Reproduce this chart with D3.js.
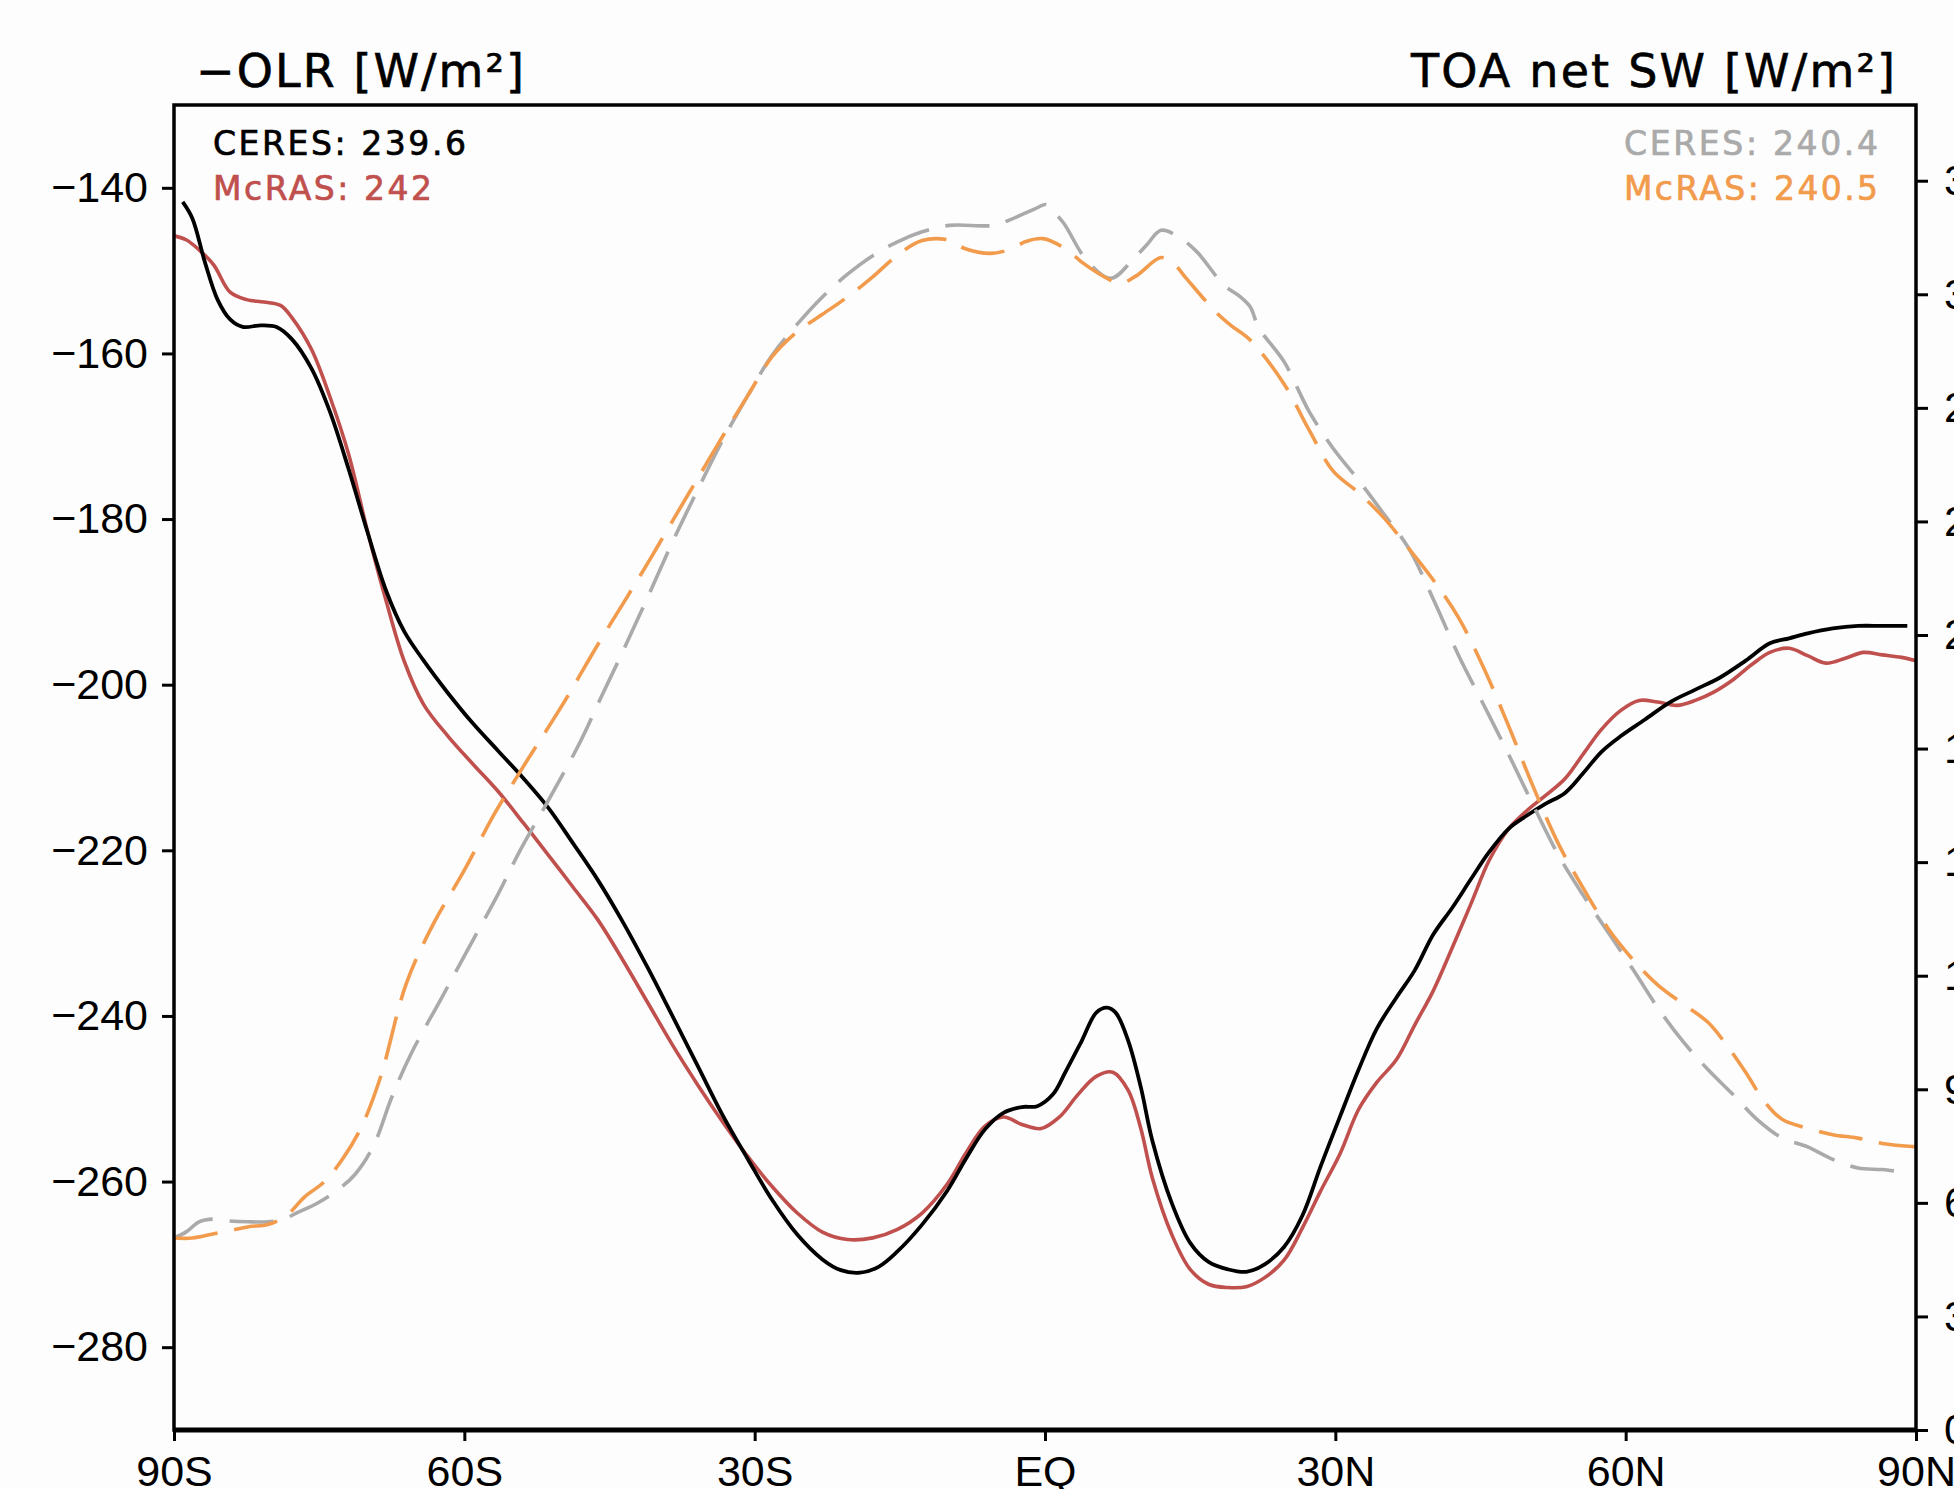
<!DOCTYPE html>
<html>
<head>
<meta charset="utf-8">
<script src="https://cdn.jsdelivr.net/npm/d3@7"></script>
<style>
  html, body { margin: 0; padding: 0; background: #fdfdfd; }
  svg { display: block; }
  text { font-family: "Liberation Sans", Arial, sans-serif; }
</style>
</head>
<body>
<svg id="plot"></svg>
<script>
(function() {
"use strict";

// latitude, -OLR (W/m2)
var ceresOlr = [
    [-89.1,-141.7],[-88.1,-143.7],[-86.8,-149.0],[-85.5,-153.5],[-84.2,-155.9],[-82.9,-156.8],
    [-81.0,-156.6],[-79.4,-156.8],[-77.8,-158.3],[-75.8,-161.8],[-73.9,-167.0],[-72.0,-173.8],
    [-70.0,-181.6],[-68.1,-188.6],[-66.2,-193.6],[-64.2,-197.1],[-61.7,-201.0],[-59.1,-204.7],
    [-56.5,-208.0],[-53.9,-211.3],[-51.3,-214.9],[-48.8,-219.1],[-46.2,-223.6],[-43.6,-228.7],
    [-41.0,-234.3],[-38.5,-240.0],[-35.9,-246.0],[-33.3,-252.0],[-30.7,-257.3],[-28.2,-262.2],
    [-25.6,-266.4],[-23.0,-269.4],[-21.1,-270.7],[-19.1,-271.0],[-17.2,-270.3],[-15.3,-268.5],
    [-12.7,-265.2],[-10.1,-261.1],[-8.2,-257.3],[-6.2,-253.7],[-4.3,-251.7],[-2.4,-251.0],
    [-0.8,-250.9],[0.8,-249.5],[2.1,-246.8],[3.8,-243.0],[5.3,-239.6],[6.4,-239.0],
    [7.3,-239.6],[8.6,-243.0],[9.9,-248.6],[11.1,-255.1],[13.1,-262.6],[15.0,-267.4],
    [16.9,-269.7],[18.9,-270.6],[20.8,-270.9],[22.7,-270.0],[24.7,-267.9],[26.6,-264.1],
    [28.5,-258.1],[30.5,-252.1],[32.4,-246.5],[34.3,-241.5],[36.3,-237.8],[38.2,-234.5],
    [40.1,-230.2],[42.1,-226.9],[44.0,-223.5],[45.9,-220.2],[47.9,-217.4],[49.8,-215.8],
    [51.7,-214.4],[53.7,-213.1],[55.6,-210.7],[57.5,-208.1],[59.5,-206.2],[62.0,-204.2],
    [64.6,-202.1],[67.2,-200.6],[69.8,-199.1],[72.4,-197.1],[74.9,-195.0],[76.9,-194.4],
    [78.8,-193.8],[81.4,-193.2],[84.0,-192.9],[86.5,-192.9],[89.1,-192.9]
];

var mcrasOlr = [
    [-90.0,-145.8],[-88.7,-146.3],[-87.4,-147.5],[-85.9,-149.3],[-84.2,-152.6],[-82.5,-153.5],
    [-80.7,-153.8],[-79.0,-154.2],[-77.8,-155.7],[-75.8,-159.5],[-73.9,-165.2],[-72.0,-172.0],
    [-70.0,-181.5],[-68.1,-189.8],[-66.2,-197.2],[-64.2,-202.4],[-61.7,-206.2],[-59.1,-209.6],
    [-56.5,-212.9],[-53.9,-216.7],[-51.3,-220.6],[-48.8,-224.4],[-46.2,-228.4],[-43.6,-233.3],
    [-41.0,-238.5],[-38.5,-243.5],[-35.9,-248.3],[-33.3,-252.8],[-30.7,-257.0],[-28.2,-260.6],
    [-25.6,-263.8],[-23.0,-266.1],[-20.4,-267.0],[-17.8,-266.8],[-15.3,-265.8],[-12.7,-263.8],
    [-10.1,-260.3],[-8.2,-256.6],[-6.2,-253.3],[-4.3,-252.2],[-2.4,-253.1],[-0.4,-253.6],
    [1.5,-252.2],[3.4,-249.5],[5.3,-247.3],[7.0,-246.8],[8.6,-249.0],[9.9,-253.6],
    [11.1,-259.6],[13.1,-266.4],[15.0,-270.6],[16.9,-272.4],[18.9,-272.8],[20.8,-272.7],
    [22.7,-271.6],[24.7,-269.5],[26.6,-265.6],[28.5,-261.1],[30.5,-256.6],[32.4,-251.3],
    [34.3,-248.0],[36.3,-245.3],[38.2,-241.1],[40.1,-237.0],[42.1,-231.7],[44.0,-226.5],
    [45.9,-221.2],[47.9,-217.4],[49.8,-215.2],[51.7,-213.4],[53.7,-211.4],[55.6,-208.4],
    [57.5,-205.4],[59.5,-203.1],[61.4,-201.9],[63.3,-202.1],[65.3,-202.5],[67.2,-201.9],
    [69.1,-200.9],[71.1,-199.4],[73.0,-197.6],[74.9,-196.1],[76.9,-195.6],[78.8,-196.5],
    [80.7,-197.4],[82.7,-196.8],[84.6,-196.1],[86.5,-196.4],[88.5,-196.7],[90.0,-197.1]
];

// latitude, TOA net SW (W/m2)
var ceresSw = [
    [-90.0,50.7],[-88.7,52.4],[-87.4,55.0],[-85.9,55.7],[-84.2,55.2],[-82.3,55.0],
    [-80.3,55.0],[-78.7,55.7],[-77.1,57.6],[-75.2,59.9],[-73.2,63.2],[-71.3,67.5],
    [-69.4,75.0],[-67.5,87.9],[-65.5,99.4],[-62.4,113.9],[-59.6,127.1],[-56.5,141.6],
    [-54.3,152.8],[-51.3,166.4],[-48.1,181.4],[-46.1,192.3],[-43.6,205.8],[-41.0,220.3],
    [-38.5,234.5],[-35.9,248.3],[-33.3,261.5],[-30.7,273.3],[-28.2,283.9],[-25.6,292.1],
    [-23.0,299.3],[-20.4,305.3],[-17.8,310.2],[-15.3,313.8],[-12.7,316.5],[-9.9,318.2],
    [-5.3,318.2],[-3.7,319.6],[-1.1,322.5],[0.1,323.7],[0.6,322.5],[1.9,318.9],
    [4.3,309.0],[6.8,304.2],[9.1,309.2],[10.5,313.0],[12.0,316.9],[14.0,314.8],
    [15.7,311.2],[18.5,302.4],[20.2,299.3],[21.2,296.7],[22.1,291.1],[24.7,282.2],
    [27.3,269.0],[29.8,259.2],[32.4,250.9],[35.0,242.0],[37.6,232.8],[40.1,219.6],
    [42.7,204.8],[45.3,191.7],[47.9,178.5],[50.4,165.3],[53.0,152.1],[55.6,141.3],
    [58.2,131.4],[60.8,121.5],[63.3,111.6],[65.9,102.7],[68.5,95.2],[71.1,88.6],
    [73.6,82.0],[76.2,77.1],[78.8,74.8],[81.4,71.5],[84.0,69.2],[86.5,68.8],[88.5,68.2]
];

var mcrasSw = [
    [-90.0,50.7],[-88.1,50.7],[-86.1,51.7],[-84.2,52.7],[-82.3,53.7],[-80.3,54.3],
    [-78.4,56.6],[-76.5,61.6],[-74.5,65.5],[-72.6,71.5],[-70.7,79.7],[-68.7,92.9],
    [-66.0,117.9],[-63.2,133.7],[-60.1,147.4],[-57.0,162.3],[-55.9,167.0],[-53.5,176.9],
    [-49.8,191.8],[-46.2,207.5],[-43.6,218.3],[-41.0,229.2],[-38.5,240.1],[-35.9,251.3],
    [-33.3,262.5],[-30.7,273.3],[-28.2,283.5],[-25.6,290.1],[-23.0,294.7],[-20.4,299.3],
    [-17.8,304.6],[-15.3,310.2],[-12.7,314.2],[-9.9,314.3],[-8.3,312.1],[-5.7,310.8],
    [-3.7,311.8],[-1.9,314.0],[-0.2,314.7],[2.3,311.7],[3.9,308.3],[6.8,303.7],
    [7.8,302.8],[9.5,305.0],[12.0,309.7],[13.3,308.1],[14.6,304.2],[17.8,294.9],
    [19.2,291.8],[21.2,287.9],[24.7,276.3],[27.3,264.1],[29.8,253.2],[32.4,247.6],
    [35.0,241.0],[37.6,232.8],[40.1,224.6],[42.7,214.7],[45.3,201.5],[47.9,186.0],
    [50.4,170.2],[53.0,155.1],[55.6,143.2],[58.2,132.4],[60.8,124.1],[63.3,117.6],
    [65.9,112.6],[68.5,107.7],[70.4,101.8],[72.4,94.5],[74.3,86.9],[76.2,82.0],
    [78.8,79.7],[81.4,78.0],[84.0,77.1],[86.5,75.7],[90.0,74.8]
];

var latTicks = [-90, -60, -30, 0, 30, 60, 90];
var latLabels = ["90S", "60S", "30S", "EQ", "30N", "60N", "90N"];
var olrTicks = [-140, -160, -180, -200, -220, -240, -260, -280];
var swTicks = [0, 30, 60, 90, 120, 150, 180, 210, 240, 270, 300, 330];

var TITLE_L = "\u2212OLR [W/m\u00b2]";
var TITLE_R = "TOA net SW [W/m\u00b2]";
var legendL = ["CERES: 239.6", "McRAS: 242"];
var legendR = ["CERES: 240.4", "McRAS: 240.5"];

var BLACK = "#000000";
var RED = "#c0504d";
var GREY = "#aaaaaa";
var ORANGE = "#f29b4c";
var LABELFONT = "'DejaVu Sans', 'Liberation Sans', sans-serif";

var W = 1954, H = 1489;
var margin = {left: 174, right: 1916, top: 105, bottom: 1430};

var svg = d3.select("#plot").attr("width", W).attr("height", H);
svg.append("rect").attr("width", W).attr("height", H).attr("fill", "#fdfdfd");

var x = d3.scaleLinear().domain([-90, 90]).range([margin.left, margin.right]);
var yl = d3.scaleLinear().domain([-290, -130]).range([margin.bottom, margin.top]);
var yr = d3.scaleLinear().domain([0, 350]).range([margin.bottom, margin.top]);

svg.append("clipPath").attr("id", "clip")
    .append("rect")
        .attr("x", margin.left).attr("y", margin.top)
        .attr("width", margin.right - margin.left)
        .attr("height", margin.bottom - margin.top);

var gl = svg.append("g").attr("clip-path", "url(#clip)");

var olrLine = d3.line()
    .x(function(d) { return x(d[0]); })
    .y(function(d) { return yl(d[1]); })
    .curve(d3.curveCatmullRom.alpha(0.5));
var swLine = d3.line()
    .x(function(d) { return x(d[0]); })
    .y(function(d) { return yr(d[1]); })
    .curve(d3.curveCatmullRom.alpha(0.5));

var draw = function(data, line, color, width, dash) {
    gl.append("path")
        .datum(data)
        .attr("fill", "none")
        .attr("stroke", color)
        .attr("stroke-width", width)
        .attr("stroke-dasharray", dash)
        .attr("stroke-linejoin", "round")
        .attr("d", line);
};

draw(mcrasOlr, olrLine, RED, 3.6, null);
draw(ceresOlr, olrLine, BLACK, 3.8, null);
draw(ceresSw, swLine, GREY, 3.6, "44,17");
draw(mcrasSw, swLine, ORANGE, 3.6, "44,17");

// axes
var styleAxis = function(g) {
    g.select(".domain").remove();
    g.selectAll(".tick line").attr("stroke", BLACK).attr("stroke-width", 3);
    g.selectAll(".tick text")
        .attr("fill", BLACK)
        .style("font-size", "43px")
        .style("font-family", "'Liberation Sans', Arial, sans-serif");
};

svg.append("g")
    .attr("transform", "translate(" + margin.left + ",0)")
    .call(d3.axisLeft(yl).tickValues(olrTicks).tickSize(12).tickPadding(14))
    .call(styleAxis);

svg.append("g")
    .attr("transform", "translate(" + margin.right + ",0)")
    .call(d3.axisRight(yr).tickValues(swTicks).tickSize(12).tickPadding(16))
    .call(styleAxis);

svg.append("g")
    .attr("transform", "translate(0," + margin.bottom + ")")
    .call(d3.axisBottom(x).tickValues(latTicks).tickSize(11).tickPadding(14)
        .tickFormat(function(d, i) { return latLabels[i]; }))
    .call(styleAxis);

// frame
svg.append("rect")
    .attr("x", margin.left).attr("y", margin.top)
    .attr("width", margin.right - margin.left)
    .attr("height", margin.bottom - margin.top)
    .attr("fill", "none")
    .attr("stroke", BLACK)
    .attr("stroke-width", 3.5);
svg.append("line")
    .attr("x1", margin.left).attr("x2", margin.right)
    .attr("y1", margin.bottom).attr("y2", margin.bottom)
    .attr("stroke", BLACK)
    .attr("stroke-width", 5);

// titles
var title = function(t, x0, len) {
    svg.append("text")
        .attr("x", x0).attr("y", 87)
        .attr("textLength", len).attr("lengthAdjust", "spacing")
        .attr("fill", BLACK)
        .attr("stroke", BLACK).attr("stroke-width", 0.6)
        .style("font-family", LABELFONT)
        .style("font-size", "46px")
        .text(t);
};
title(TITLE_L, 196, 328);
title(TITLE_R, 1411, 484);

// legends
var legend = function(labels, colors, x0, widths) {
    labels.forEach(function(t, i) {
        svg.append("text")
            .attr("x", x0).attr("y", 155 + i * 45)
            .attr("textLength", widths[i]).attr("lengthAdjust", "spacing")
            .attr("fill", colors[i])
            .attr("stroke", colors[i]).attr("stroke-width", 0.7)
            .style("font-family", LABELFONT)
            .style("font-size", "33px")
            .text(t);
    });
};
legend(legendL, [BLACK, RED], 213, [253, 219]);
legend(legendR, [GREY, ORANGE], 1624, [254, 254]);
}());
</script>
</body>
</html>
